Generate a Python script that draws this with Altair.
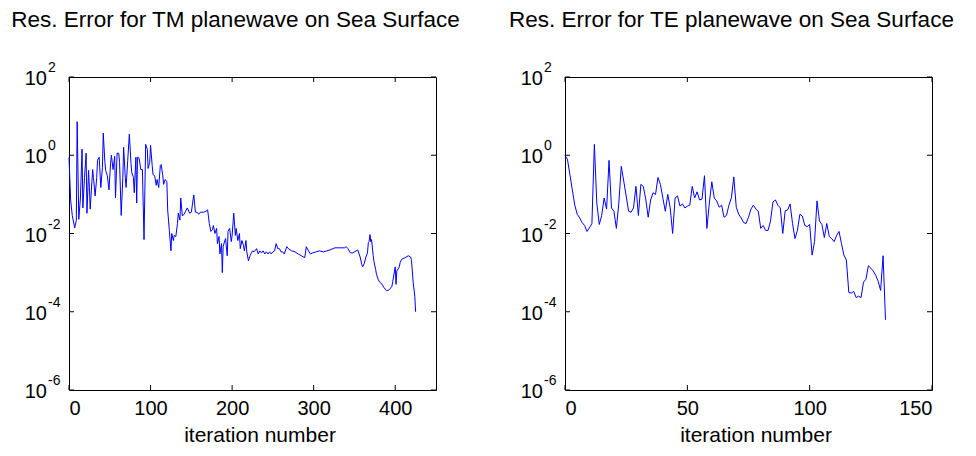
import altair as alt
import pandas as pd

# ---------------- data ----------------
tm_iter = [0,2,4,7,9,10,12,14,16,17,19,21,22,24,25,26,29,30,32,34,35,37,39,41,42,44,45,47,49,51,
           52,54,56,57,59,61,62,64,66,67,69,70,72,74,76,77,79,80,82,83,84,86,88,90,92,94,96,97,99,100,
           102,103,105,107,108,110,112,113,115,116,118,120,121,123,125,126,128,129,131,133,134,136,137,139,141,143,145,148,150,153,
           155,157,159,161,165,168,170,172,174,176,177,179,181,182,184,185,187,188,189,191,192,194,195,197,199,200,202,204,205,207,
           209,210,212,214,215,217,218,220,222,223,225,227,230,232,234,236,238,240,242,244,246,248,250,252,254,256,258,260,262,264,
           267,269,273,277,281,285,289,291,293,296,299,303,307,312,316,320,326,332,338,340,342,345,348,352,354,357,359,360,362,364,
           366,367,368,369,370,371,373,374,376,377,379,381,384,386,389,391,393,396,397,400,401,402,405,406,408,412,416,419,420,422,
           424,425]
tm_res = [0.89,0.072,0.029,0.014,0.022,7.2,0.023,0.081,1.43,0.045,
          0.27,1.13,0.033,0.41,0.15,0.042,0.43,0.27,0.091,0.27,
          0.74,0.89,0.15,0.49,3.7,0.66,0.41,0.30,0.13,0.62,
          1.0,0.43,0.94,0.081,1.13,1.13,0.66,0.029,0.27,1.6,
          0.27,0.15,0.74,3.5,0.62,0.36,0.27,0.11,0.89,0.060,
          0.89,0.84,0.43,0.43,0.0070,1.9,1.43,0.46,0.66,1.8,
          0.55,0.32,0.30,0.17,0.24,0.15,0.55,0.58,0.30,0.18,
          0.24,0.21,0.040,0.012,0.0036,0.010,0.0066,0.0089,0.0084,0.018,
          0.033,0.022,0.081,0.028,0.031,0.037,0.045,0.033,0.035,0.097,
          0.035,0.035,0.031,0.035,0.035,0.037,0.040,0.018,0.0113,0.0127,
          0.016,0.010,0.0135,0.0055,0.0084,0.0030,0.0055,0.0010,0.0046,0.0066,
          0.0074,0.0027,0.0113,0.0135,0.0062,0.0089,0.033,0.0089,0.0135,0.0066,
          0.010,0.0041,0.0066,0.0049,0.0036,0.0066,0.0034,0.0020,0.0027,0.0030,
          0.0036,0.0034,0.0041,0.0030,0.0036,0.0032,0.0036,0.0030,0.0034,0.0030,
          0.0034,0.0030,0.0034,0.0036,0.0055,0.0041,0.0041,0.0034,0.0034,0.0030,
          0.0046,0.0041,0.0036,0.0034,0.0030,0.0027,0.0024,0.0046,0.0038,0.0030,
          0.0032,0.0034,0.0036,0.0034,0.0036,0.0038,0.0043,0.0043,0.0043,0.0046,
          0.0041,0.0032,0.0032,0.0036,0.0038,0.0025,0.0016,0.0014,0.0017,0.0025,
          0.0032,0.0058,0.0062,0.0094,0.0062,0.0070,0.0027,0.0019,0.0012,0.00091,
          0.00068,0.00057,0.00050,0.00042,0.00035,0.00035,0.00037,0.00045,0.00060,0.0014,
          0.00050,0.0011,0.0014,0.0018,0.0022,0.0024,0.0027,0.0025,0.0020,0.00057,
          0.00025,0.0001]

te_res = [1.0,0.79,0.32,0.13,0.053,0.031,0.025,0.019,0.016,0.0113,
          0.014,0.018,1.9,0.060,0.017,0.029,0.081,0.042,0.74,0.045,
          0.037,0.0135,0.06,0.52,0.22,0.091,0.037,0.035,0.045,0.16,
          0.029,0.18,0.16,0.076,0.026,0.072,0.11,0.10,0.27,0.18,
          0.081,0.037,0.10,0.045,0.010,0.081,0.091,0.050,0.057,0.045,
          0.050,0.053,0.16,0.081,0.116,0.072,0.076,0.30,0.0135,0.06,
          0.21,0.081,0.068,0.047,0.053,0.026,0.029,0.053,0.081,0.28,
          0.047,0.031,0.025,0.019,0.018,0.026,0.042,0.053,0.042,0.037,
          0.0135,0.016,0.012,0.012,0.021,0.064,0.072,0.053,0.045,0.010,
          0.038,0.040,0.057,0.018,0.0074,0.012,0.031,0.028,0.016,0.015,
          0.017,0.0028,0.0062,0.068,0.021,0.017,0.0079,0.018,0.0084,0.0074,
          0.0062,0.0089,0.0113,0.0055,0.0028,0.0021,0.00031,0.00030,0.00033,0.00023,
          0.00025,0.00023,0.00057,0.00068,0.0015,0.0013,0.0011,0.00085,0.0006,0.00035,
          0.0027,0.000062]
te_iter = list(range(len(te_res)))

y_tick_values = [1e-6, 1e-4, 1e-2, 1, 1e2]
y_tick_exps = ["-6", "-4", "-2", "0", "2"]
tm_x_ticks = [0, 100, 200, 300, 400]
te_x_ticks = [0, 50, 100, 150]

titles = ["Res. Error for TM planewave on Sea Surface",
          "Res. Error for TE planewave on Sea Surface"]

# ---------------- layout / style ----------------
W, H = 367, 313
FONT = "Liberation Sans"
BLUE = "#0000ff"


def panel(it, res, xticks, xmax, title):
    df = pd.DataFrame({"it": it, "res": res})
    xs = alt.Scale(domain=[0, xmax], nice=False, zero=False)
    ys = alt.Scale(type="log", domain=[1e-6, 1e2], nice=False)
    xaxis = alt.Axis(values=xticks, title="iteration number", format="d",
                     titleX=W / 2 + 7)

    line = alt.Chart(df).mark_line(color=BLUE, strokeWidth=1).encode(
        x=alt.X("it:Q", scale=xs, axis=xaxis),
        y=alt.Y("res:Q", scale=ys, axis=None),
    )

    xt = pd.DataFrame({"it": xticks})
    xt_bottom = alt.Chart(xt).mark_rule(color="black", strokeWidth=1).encode(
        x=alt.X("it:Q", scale=xs, axis=xaxis), y=alt.value(H), y2=alt.value(H - 5))
    xt_top = alt.Chart(xt).mark_rule(color="black", strokeWidth=1).encode(
        x=alt.X("it:Q", scale=xs, axis=xaxis), y=alt.value(0), y2=alt.value(5))

    yt = pd.DataFrame({"res": y_tick_values, "e": y_tick_exps,
                       "b": ["10"] * len(y_tick_values)})
    yt_left = alt.Chart(yt).mark_rule(color="black", strokeWidth=1).encode(
        y=alt.Y("res:Q", scale=ys, axis=None), x=alt.value(0), x2=alt.value(5))
    yt_right = alt.Chart(yt).mark_rule(color="black", strokeWidth=1).encode(
        y=alt.Y("res:Q", scale=ys, axis=None), x=alt.value(W), x2=alt.value(W - 5))
    lbl_base = alt.Chart(yt).mark_text(
        align="right", baseline="alphabetic", font=FONT, fontSize=20, dy=8, color="black"
    ).encode(y=alt.Y("res:Q", scale=ys, axis=None), x=alt.value(-22), text="b:N")
    lbl_exp = alt.Chart(yt).mark_text(
        align="left", baseline="alphabetic", font=FONT, fontSize=14, dy=-5, color="black"
    ).encode(y=alt.Y("res:Q", scale=ys, axis=None), x=alt.value(-21), text="e:N")

    return alt.layer(line, xt_bottom, xt_top, yt_left, yt_right, lbl_base, lbl_exp).properties(
        width=W, height=H,
        title=alt.TitleParams(title, font=FONT, fontSize=22.5, fontWeight="normal",
                              color="black", anchor="middle", frame="group",
                              dx=-17, offset=30),
    )


left = panel(tm_iter, tm_res, tm_x_ticks, 450, titles[0])
right = panel(te_iter, te_res, te_x_ticks, 150, titles[1])

chart = alt.hconcat(left, right, spacing=129, bounds="flush").properties(
    padding={"left": 2, "top": 0, "right": 4, "bottom": 0}
).configure_view(stroke="black", strokeWidth=1).configure_axis(
    labelFont=FONT, titleFont=FONT, labelColor="black", titleColor="black",
    labelFontSize=20, titleFontSize=21, titleFontWeight="normal",
    grid=False, domain=False, ticks=False, labelPadding=8, titlePadding=6,
)

chart.save("out.html", embed_options={"renderer": "svg", "actions": False})
